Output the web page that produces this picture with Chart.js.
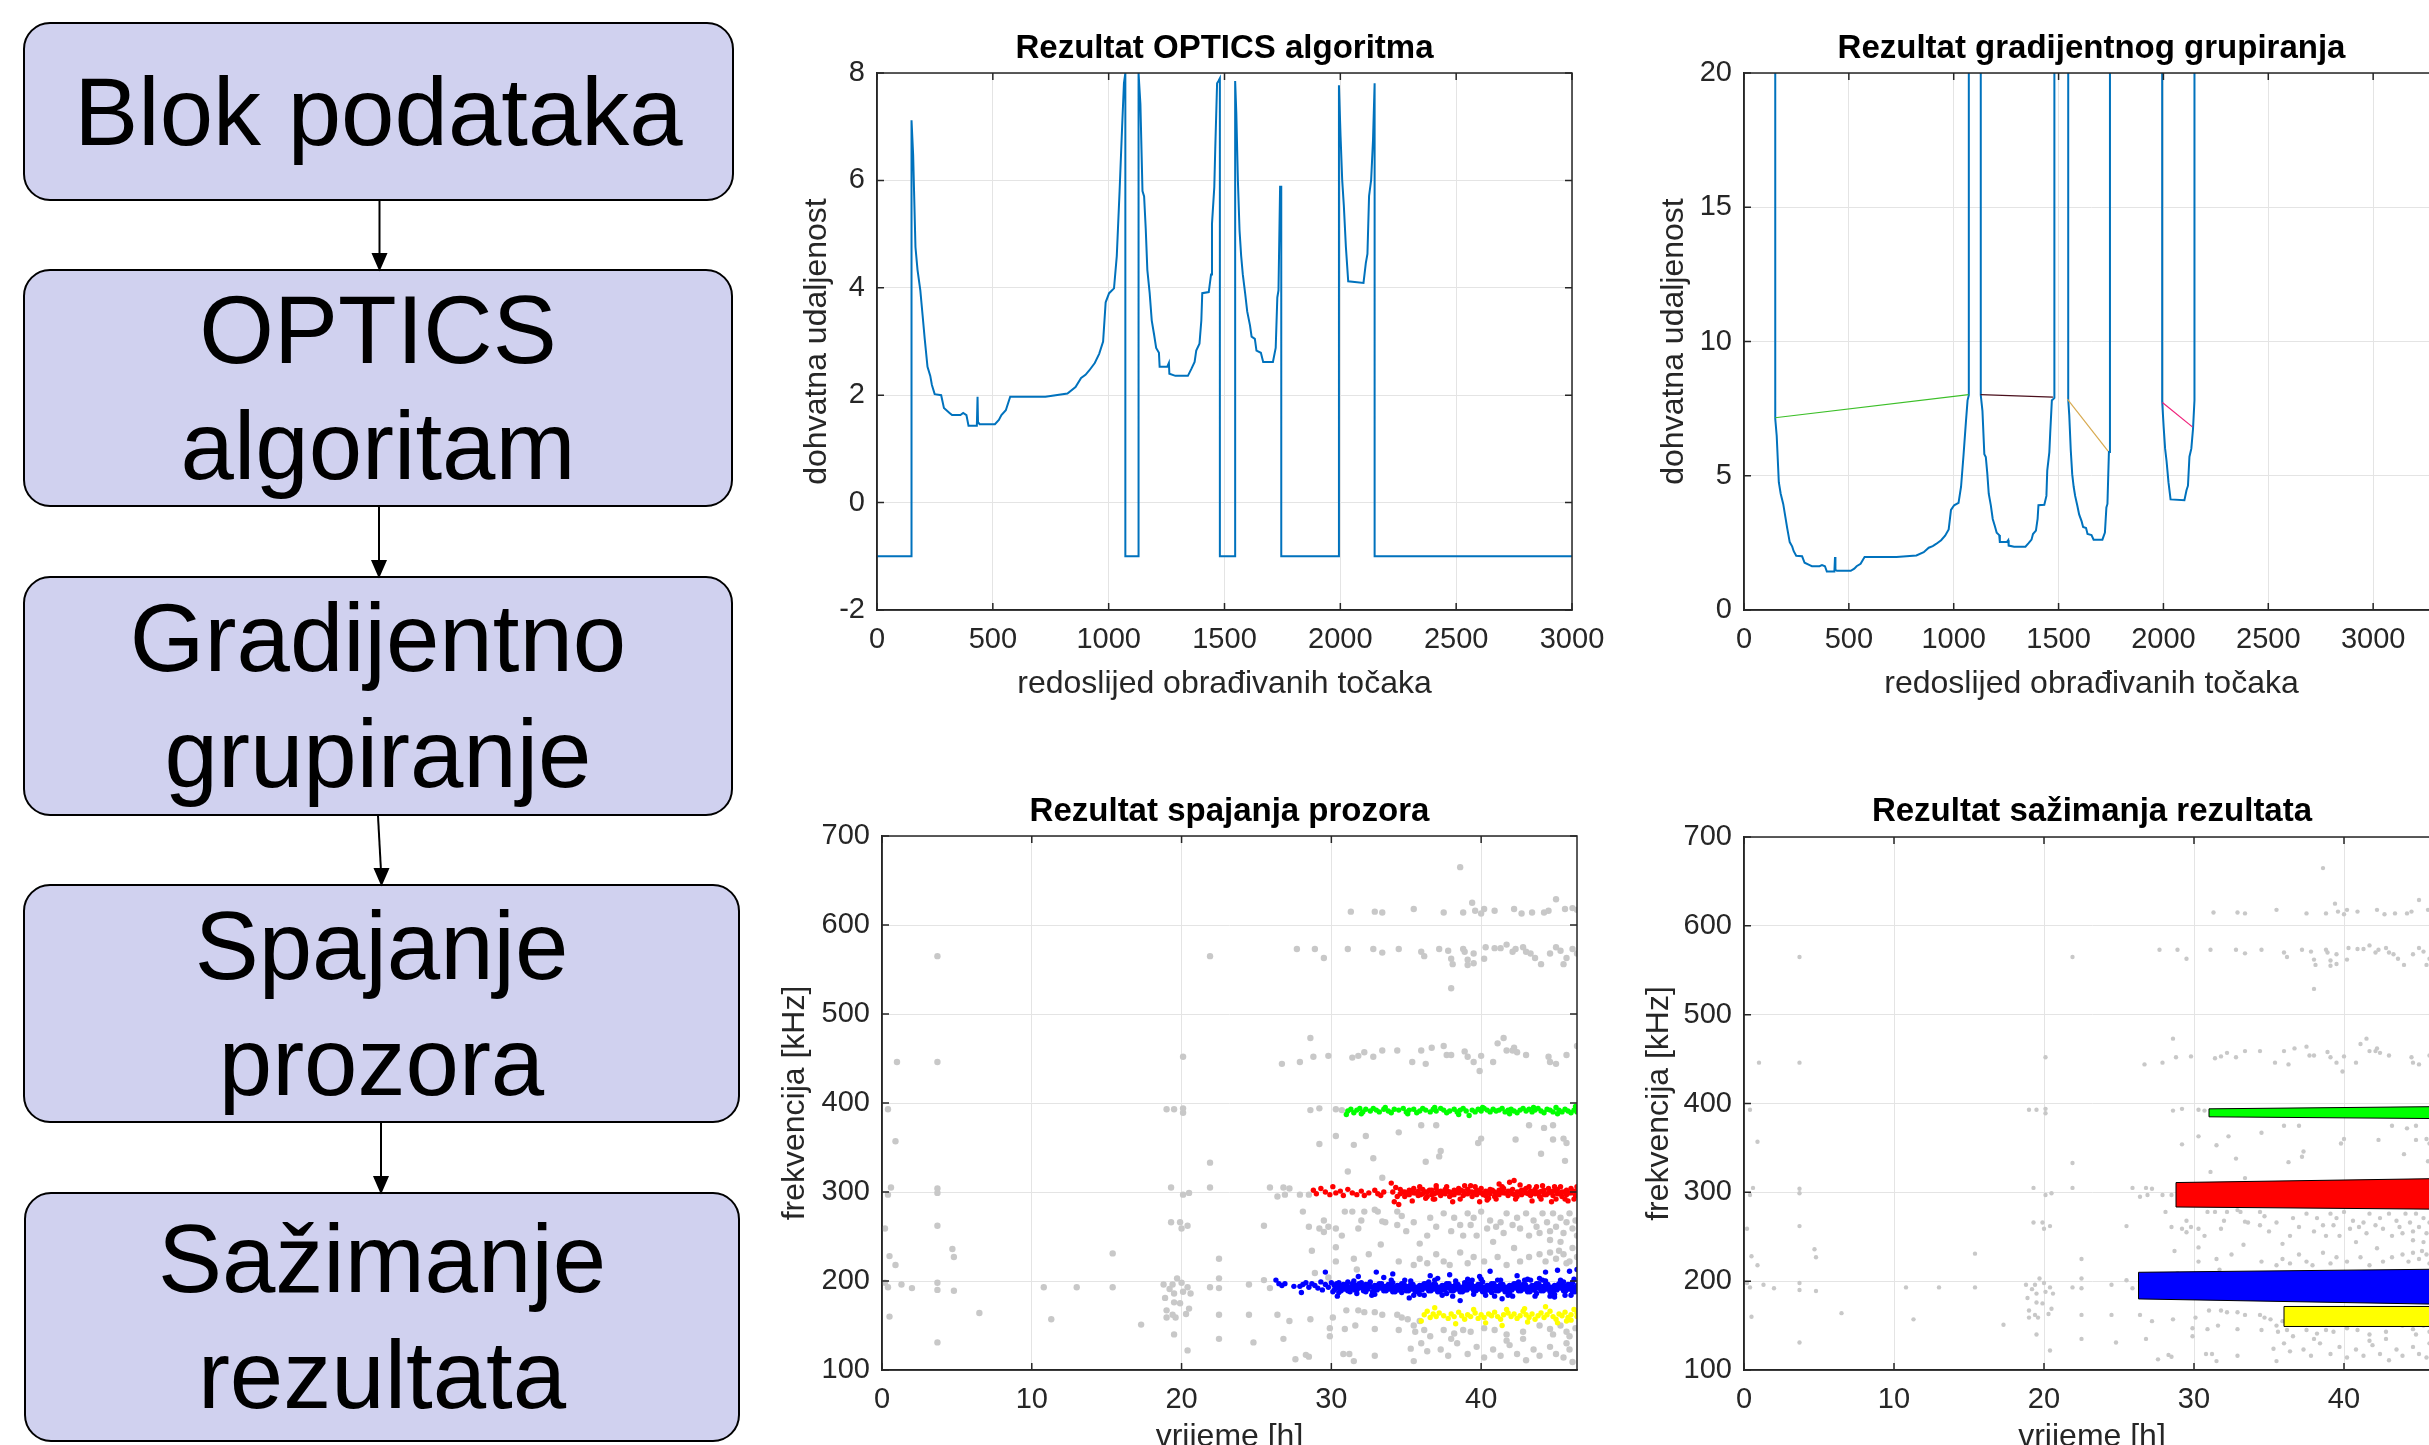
<!DOCTYPE html>
<html>
<head>
<meta charset="utf-8">
<script src="https://cdn.jsdelivr.net/npm/chart.js@4.4.1/dist/chart.umd.min.js"></script>
<style>
  body { margin: 0; width: 2429px; height: 1445px; overflow: hidden; background: #fff; position: relative; font-family: "Liberation Sans", Arial, sans-serif; }
  .box { position: absolute; box-sizing: border-box; background: #d0d1ef; border: 2px solid #000; border-radius: 27px;
         display: flex; align-items: center; justify-content: center; text-align: center; font-size: 96px; line-height: 116px; color: #000; }
  canvas { position: absolute; }
</style>
</head>
<body>

<div class="box" style="left:23px;top:22px;width:711px;height:179px;">Blok podataka</div>
<div class="box" style="left:23px;top:269px;width:710px;height:238px;">OPTICS<br>algoritam</div>
<div class="box" style="left:23px;top:576px;width:710px;height:240px;">Gradijentno<br>grupiranje</div>
<div class="box" style="left:23px;top:884px;width:717px;height:239px;">Spajanje<br>prozora</div>
<div class="box" style="left:24px;top:1192px;width:716px;height:250px;">Sažimanje<br>rezultata</div>

<svg width="760" height="1445" style="position:absolute;left:0;top:0">
  <g stroke="#000" stroke-width="2" fill="#000">
    <line x1="379.5" y1="201" x2="379.5" y2="256"/><polygon points="373,254 386,254 379.5,269"/>
    <line x1="379" y1="507" x2="379" y2="563"/><polygon points="372.5,561 385.5,561 379,576"/>
    <line x1="378" y1="816" x2="381" y2="871"/><polygon points="375,869 388,869 381.5,884"/>
    <line x1="381" y1="1123" x2="381" y2="1179"/><polygon points="374.5,1177 387.5,1177 381,1192"/>
  </g>
</svg>

<canvas id="optics" width="929" height="740" style="left:760px;top:0px"></canvas>
<canvas id="gradient" width="943" height="740" style="left:1620px;top:0px"></canvas>
<canvas id="merge" width="939" height="720" style="left:760px;top:760px"></canvas>
<canvas id="summary" width="944" height="720" style="left:1620px;top:760px"></canvas>

<script>
// OPTICS reachability plot (-1 = undefined reachability)
const optX = [0,149,149,156,166,175,187,197,206,218,230,237,249,277,289,313,324,360,372,386,
  395,431,434,436,443,509,526,537,556,575,727,822,857,881,900,916,940,959,976,987,
  1002,1023,1035,1047,1058,1066,1072,1072,1129,1129,1137,1146,1153,1160,1167,1177,1186,1196,1205,1217,
  1220,1253,1260,1262,1288,1342,1357,1371,1378,1392,1400,1404,1432,1442,1446,1456,1460,1468,1474,1480,
  1480,1546,1546,1551,1558,1565,1572,1579,1589,1598,1610,1617,1631,1638,1657,1667,1709,1721,1728,1733,
  1740,1745,1745,1994,1994,2001,2008,2015,2024,2034,2100,2110,2117,2124,2133,2141,2148,2148,3000];
const optY = [-1,-1,7.12,6.48,4.76,4.33,3.95,3.48,3.05,2.53,2.36,2.19,2.02,2.0,1.76,1.67,1.63,1.63,1.67,1.63,
  1.43,1.43,1.97,1.5,1.46,1.46,1.54,1.63,1.72,1.97,1.97,2.03,2.15,2.32,2.38,2.46,2.6,2.77,3.0,3.73,
  3.9,3.99,4.59,5.79,6.99,7.81,8.0,-1,-1,8.0,7.42,5.8,5.7,5.1,4.33,3.9,3.39,3.13,2.88,2.79,
  2.53,2.53,2.6,2.4,2.36,2.36,2.49,2.62,2.83,2.96,3.39,3.9,3.92,4.25,5.19,5.88,6.57,7.81,7.85,7.9,
  -1,-1,7.85,7.25,5.97,5.06,4.59,4.25,3.9,3.56,3.3,3.09,3.05,2.83,2.79,2.62,2.62,2.88,3.82,3.95,
  5.88,5.88,-1,-1,7.77,6.82,6.01,5.54,4.76,4.12,4.09,4.46,4.63,5.71,6.01,6.74,7.81,-1,-1];

// gradient clustering: cluster connecting lines
const gradLineX = [[148,1071],[1128,1473],[1542,1736],[1995,2138]];
const gradLineY = [[7.16,8.02],[8.02,7.93],[7.85,5.92],[7.73,6.82]];
const gradLineColors = ['#3cbf28','#4a0f1c','#d8ab52','#f0207a'];

// tick labels
const orderTicks = [0,500,1000,1500,2000,2500,3000];
const opticsTicks = [-2,0,2,4,6,8];
const gradTicks = [0,5,10,15,20];
const timeTicks = [0,10,20,30,40];
const freqTicks = [100,200,300,400,500,600,700];

// noise points (time [h], frequency [kHz])
const grayPts = [[38.6,665],[39.4,625],[45.0,629],
  [31.3,615],[32.9,615],[33.4,614],[35.5,618],[37.5,614],[38.8,614],[39.6,616],[40.0,613],[40.2,618],[40.9,616],[42.2,618],[42.7,613],[43.4,614],[44.2,614],[44.5,616],[45.6,618],[46.1,619],[46.4,617],
  [27.7,573],[28.9,573],[29.5,563],[31.1,573],[32.8,573],[33.4,569],[34.5,573],[36.0,570],[36.2,565],[37.2,573],[37.8,571],[38.0,562],[38.1,556],[38.8,573],[38.9,570],[39.1,561],[39.1,555],[39.5,568],[39.5,557],[40.2,562],[40.3,575],[40.9,574],[41.3,574],[41.7,578],[42.1,570],[42.3,573],[42.8,575],[43.0,570],[43.3,568],[43.6,563],[44.0,556],[44.6,568],[45.0,575],[45.3,571],[45.5,556],[45.7,563],[46.1,573],[46.4,568],[38.0,529],
  [3.7,565],[21.9,565],
  [1.0,446],[3.7,446],[20.1,452],[26.7,444],[27.9,446],[28.6,473],[28.8,452],[29.8,453],[31.4,451],[31.8,453],[32.2,457],[32.8,452],[33.4,459],[34.4,459],[35.4,446],[36.0,459],[36.3,444],[36.7,462],[37.5,464],[37.7,454],[38.0,454],[38.9,458],[39.1,452],[39.5,446],[39.9,436],[40.0,453],[40.8,446],[41.1,467],[41.5,473],[41.7,459],[42.1,459],[42.2,462],[42.4,457],[43.0,454],[44.5,452],[44.6,446],[45.0,444],[45.7,454],[46.4,464],
  [0.4,393],[19.0,393],[19.5,393],[20.1,394],[20.1,389],[28.6,392],[29.2,394],[30.3,393],[30.7,392],
  [0.9,357],[30.3,363],[31.5,353],[32.3,363],[29.2,354],[34.5,367],[36.0,375],[37.0,375],[39.8,355],[40.0,360],[42.3,359],[43.2,375],[44.2,372],[44.8,375],[44.8,359],[45.5,360],[45.7,355],[36.3,334],[37.2,340],[37.3,346],[32.8,338],[21.9,333],[44.0,343],[45.6,335],[31.1,323],[33.4,316],
  [0.4,297],[0.6,305],[3.7,304],[3.7,299],[19.3,305],[20.1,297],[20.5,299],[21.9,305],[25.9,305],[26.4,295],[26.8,305],[27.2,304],[26.9,297],[27.9,297],[28.5,297],
  [0.2,259],[0.5,228],[0.9,218],[3.7,262],[4.7,236],[4.8,227],[15.4,231],[19.3,266],[19.9,266],[20.4,262],[20.0,259],[22.5,225],[25.5,262],[28.1,278],[28.5,261],[29.5,268],[29.2,259],[29.5,255],[29.8,261],[30.3,259],[30.7,251],[30.3,238],[30.9,278],[31.4,278],[31.8,259],[32.0,268],[32.2,278],[32.9,280],[33.1,278],[33.4,267],[33.6,266],[34.4,278],[34.4,263],[34.7,273],[35.0,256],[35.5,266],[35.9,242],[36.4,251],[36.6,271],[37.0,261],[37.5,276],[38.0,256],[38.2,271],[38.6,263],[38.8,251],[39.1,276],[39.3,263],[39.5,271],[39.7,251],[40.0,278],[40.4,259],[40.6,268],[41.0,261],[41.3,266],[41.5,254],[41.7,276],[42.1,263],[42.4,271],[42.6,259],[43.0,276],[43.2,251],[43.5,268],[43.7,261],[43.9,254],[44.1,276],[44.4,266],[44.6,256],[44.8,276],[45.0,261],[45.3,271],[45.5,254],[45.7,266],[45.9,276],[46.1,259],[46.3,268],[46.4,251],[44.6,246],[45.3,244],
  [28.7,234],[30.3,222],[31.5,225],[32.5,230],[33.3,241],[34.5,222],[35.5,218],[35.9,225],[36.4,220],[37.0,230],[37.5,222],[37.9,218],[38.6,232],[39.1,220],[39.5,227],[40.2,222],[40.8,244],[41.1,227],[41.7,218],[42.2,237],[42.6,222],[43.2,227],[43.9,230],[44.3,222],[44.6,232],[45.0,225],[45.5,230],[45.9,222],[46.4,227],[46.1,237],[45.7,220],[45.2,234],
  [0.2,198],[0.4,193],[1.3,196],[2.0,192],[3.7,198],[3.7,190],[4.8,189],[10.8,193],[13.0,193],[15.4,193],[18.8,196],[19.2,191],[19.4,196],[19.7,203],[20.0,198],[20.1,188],[20.4,193],[20.6,186],[19.5,186],[21.9,193],[22.5,203],[22.5,192],[24.5,196],[25.5,201],[25.9,192],[28.9,209],[29.8,204],[31.7,213],
  [0.5,160],[6.5,164],[11.3,157],[18.9,181],[19.0,167],[19.0,159],[19.5,176],[19.9,175],[19.4,162],[20.3,163],[19.6,159],[20.5,169],[17.3,151],[22.5,162],[24.5,162],[26.4,162],[27.2,155],[28.6,157],[30.1,159],[31.0,167],[31.8,167],[32.2,165],[32.9,165],[33.4,162],[34.4,162],[34.7,159],[35.1,157],[35.9,155],[29.9,147],[30.9,146],[31.6,150],[32.9,146],[34.5,145],[35.5,150],[35.6,143],[36.2,145],[36.6,138],[37.5,145],[38.2,141],[38.8,145],[39.3,143],[40.2,147],[40.9,145],[41.7,140],[42.8,143],[43.9,150],[44.6,146],[45.3,150],[45.7,143],[46.3,147],[45.9,138],[44.8,140],
  [3.7,131],[19.5,140],[20.4,122],[22.5,135],[24.8,131],[26.8,135],[27.6,112],[28.3,117],[28.5,115],[29.9,138],[30.8,118],[31.2,118],[31.5,110],[32.9,116],[35.3,124],[35.5,110],[36.0,130],[36.4,121],[37.3,123],[37.8,116],[38.4,130],[39.1,118],[39.7,126],[40.2,114],[40.8,123],[41.3,116],[41.9,128],[42.4,118],[43.0,111],[43.5,123],[43.9,116],[44.6,126],[45.0,118],[45.5,114],[45.9,123],[46.1,109],[45.7,130],[42.8,135],[41.7,133],[38.0,135]];

// merged windows: cluster points
const greenPts = [[31.0,387],[31.1,391],[31.3,393],[31.5,389],[31.7,392],[31.9,394],[32.1,390],[32.3,393],[32.6,391],[32.8,394],[33.0,392],[33.2,390],[33.5,393],[33.8,391],[34.0,389],[34.2,393],[34.5,392],[34.8,394],[35.0,390],[35.2,392],[35.5,393],[35.7,389],[35.9,391],[36.1,394],[36.3,392],[36.6,390],[36.8,393],[37.0,391],[37.3,394],[37.5,392],[37.7,389],[37.9,391],[38.2,393],[38.4,390],[38.6,392],[38.8,394],[39.0,391],[39.2,386],[39.4,392],[39.6,390],[39.8,393],[40.0,391],[40.2,394],[40.4,392],[40.6,390],[40.8,393],[41.0,391],[41.2,392],[41.4,394],[41.6,390],[41.8,392],[42.0,393],[42.2,391],[42.4,389],[42.6,392],[42.8,394],[43.0,391],[43.2,393],[43.4,390],[43.6,392],[43.8,394],[44.0,391],[44.2,389],[44.4,393],[44.6,392],[44.8,390],[45.0,395],[45.2,392],[45.4,390],[45.6,393],[45.8,391],[46.0,389],[46.2,392],[46.4,390],[46.4,393],
  [32.0,388],[33.6,395],[35.1,388],[36.9,395],[38.5,387],[40.1,395],[41.9,388],[43.5,395],[45.1,388],[46.3,396]];
const redPts = [[28.8,302],[29.0,298],[29.3,304],[29.6,300],[29.9,297],[30.1,306],[30.3,299],[30.6,301],[30.8,296],[31.1,303],[31.4,299],[31.7,297],[32.0,301],[32.2,296],[32.5,299],[32.9,302],[33.1,298],[33.3,296],[33.5,300],[34.0,310],[34.3,305],[34.1,300],[34.4,295],[34.2,289],[34.5,286],
  [34.6,298],[34.6,303],[34.9,300],[34.9,295],[35.2,302],[35.2,297],[35.5,299],[35.5,304],[35.8,296],[35.8,301],[36.1,303],[36.1,298],[36.4,300],[36.4,295],[36.7,302],[36.7,297],[37.0,299],[37.0,304],[37.3,296],[37.3,301],[37.6,303],[37.6,298],[37.9,300],[37.9,295],[38.2,302],[38.2,297],[38.5,299],[38.5,304],[38.8,296],[38.8,301],[39.1,303],[39.1,298],[39.4,300],[39.4,295],[39.7,302],[39.7,297],[40.0,299],[40.0,304],[40.3,296],[40.3,301],[40.6,303],[40.6,298],[40.9,300],[40.9,295],[41.2,302],[41.2,297],[41.5,299],[41.5,304],[41.8,296],[41.8,301],[42.1,303],[42.1,298],[42.4,300],[42.4,295],[42.7,302],[42.7,297],[43.0,299],[43.0,304],[43.3,296],[43.3,301],[43.6,303],[43.6,298],[43.9,300],[43.9,295],[44.2,302],[44.2,297],[44.5,299],[44.5,304],[44.8,296],[44.8,301],[45.1,303],[45.1,298],[45.4,300],[45.4,295],[45.7,302],[45.7,297],[46.0,299],[46.0,304],[46.3,296],[46.3,301],
  [34.75,300],[35.05,298],[35.35,301],[35.65,299],[35.95,297],[36.25,300],[36.55,302],[36.85,298],[37.15,300],[37.45,299],[37.75,301],[38.05,297],[38.35,300],[38.65,302],[38.95,298],[39.25,300],[39.55,299],[39.85,301],[40.15,297],[40.45,300],[40.75,302],[41.05,298],[41.35,300],[41.65,299],[41.95,301],[42.25,297],[42.55,300],[42.85,302],[43.15,298],[43.45,300],[43.75,299],[44.05,301],[44.35,297],[44.65,300],[44.95,302],[45.25,298],[45.55,300],[45.85,299],[46.15,301],
  [35.4,290],[36.9,292],[38.1,289],[39.3,307],[40.4,291],[41.2,309],[41.9,311],[42.2,313],[42.6,308],[43.4,290],[44.1,307],[44.7,289],[45.3,306],[45.8,290],[46.2,292],[37.0,307],[39.9,289],
  [35.9,306],[36.8,292],[37.7,306],[38.6,292],[39.6,306],[40.5,293],[41.4,306],[42.3,292],[43.2,306],[44.0,292],[44.9,306],[45.6,292],[46.4,306],[36.3,293],[38.9,307],[41.0,292],[43.7,306],[45.0,292]];
const bluePts = [[26.3,201],[26.5,197],[26.7,195],[26.9,197],[27.5,194],[27.9,194],[28.1,196],[28.3,198],[28.5,193],[28.7,197],[28.9,195],[29.1,192],[29.3,199],[29.4,190],[29.6,196],[29.8,193],[30.0,198],[30.1,188],
  [30.2,195],[30.2,190],[30.5,193],[30.5,198],[30.5,187],[30.8,191],[30.8,196],[31.1,194],[31.1,189],[31.1,199],[31.4,192],[31.4,197],[31.7,190],[31.7,195],[31.7,186],[32.0,193],[32.0,198],[32.3,191],[32.3,196],[32.3,188],[32.6,194],[32.6,199],[32.9,190],[32.9,195],[32.9,185],[33.2,192],[33.2,197],[33.5,194],[33.5,189],[33.5,204],[33.8,191],[33.8,196],[34.1,193],[34.1,188],[34.1,198],[34.4,195],[34.4,190],[34.7,192],[34.7,197],[34.7,187],[35.0,194],[35.0,189],[35.3,191],[35.3,196],[35.3,200],[35.6,193],[35.6,188],[35.9,195],[35.9,190],[35.9,185],[36.2,192],[36.2,197],[36.5,194],[36.5,189],[36.5,199],[36.8,191],[36.8,196],[37.1,193],[37.1,188],[37.1,203],[37.4,195],[37.4,190],[37.7,192],[37.7,197],[37.7,186],[38.0,194],[38.0,189],[38.3,191],[38.3,196],[38.3,200],[38.6,193],[38.6,188],[38.9,195],[38.9,190],[38.9,198],[39.2,192],[39.2,197],[39.5,194],[39.5,189],[39.5,185],[39.8,191],[39.8,196],[40.1,193],[40.1,188],[40.1,199],[40.4,195],[40.4,190],[40.7,192],[40.7,197],[40.7,187],[41.0,194],[41.0,189],[41.3,191],[41.3,196],[41.3,201],[41.6,193],[41.6,188],[41.9,195],[41.9,190],[41.9,186],[42.2,192],[42.2,197],[42.5,194],[42.5,189],[42.5,199],[42.8,191],[42.8,196],[43.1,193],[43.1,188],[43.1,202],[43.4,195],[43.4,190],[43.7,192],[43.7,197],[43.7,186],[44.0,194],[44.0,189],[44.3,191],[44.3,196],[44.3,200],[44.6,193],[44.6,188],[44.9,195],[44.9,190],[44.9,185],[45.2,192],[45.2,197],[45.5,194],[45.5,189],[45.5,199],[45.8,191],[45.8,196],[46.1,193],[46.1,188],[46.1,198],[46.4,195],[46.4,190],[46.4,193],
  [30.35,192],[30.35,197],[30.65,189],[30.65,194],[30.95,196],[30.95,191],[31.25,193],[31.25,188],[31.55,195],[31.55,190],[31.85,192],[31.85,197],[32.15,189],[32.15,194],[32.45,196],[32.45,191],[32.75,193],[32.75,188],[33.05,195],[33.05,190],[33.35,192],[33.35,197],[33.65,189],[33.65,194],[33.95,196],[33.95,191],[34.25,193],[34.25,188],[34.55,195],[34.55,190],[34.85,192],[34.85,197],[35.15,189],[35.15,194],[35.45,196],[35.45,191],[35.75,193],[35.75,188],[36.05,195],[36.05,190],[36.35,192],[36.35,197],[36.65,189],[36.65,194],[36.95,196],[36.95,191],[37.25,193],[37.25,188],[37.55,195],[37.55,190],[37.85,192],[37.85,197],[38.15,189],[38.15,194],[38.45,196],[38.45,191],[38.75,193],[38.75,188],[39.05,195],[39.05,190],[39.35,192],[39.35,197],[39.65,189],[39.65,194],[39.95,196],[39.95,191],[40.25,193],[40.25,188],[40.55,195],[40.55,190],[40.85,192],[40.85,197],[41.15,189],[41.15,194],[41.45,196],[41.45,191],[41.75,193],[41.75,188],[42.05,195],[42.05,190],[42.35,192],[42.35,197],[42.65,189],[42.65,194],[42.95,196],[42.95,191],[43.25,193],[43.25,188],[43.55,195],[43.55,190],[43.85,192],[43.85,197],[44.15,189],[44.15,194],[44.45,196],[44.45,191],[44.75,193],[44.75,188],[45.05,195],[45.05,190],[45.35,192],[45.35,197],[45.65,189],[45.65,194],[45.95,196],[45.95,191],[46.25,193],[46.25,188],
  [33.0,210],[34.1,208],[35.2,181],[36.6,206],[37.9,207],[38.6,178],[39.9,205],[40.6,211],[41.4,180],[42.4,206],[43.6,183],[44.3,210],[45.1,212],[45.9,211],[46.4,213],[44.9,182],[40.9,183],[31.8,205],[29.6,210],[28.0,187],[30.4,183],
  [34.9,201],[37.4,184],[39.1,202],[41.8,184],[43.9,203],[45.6,184],[46.2,202],[42.9,201],[36.2,184],
  [31.5,200],[32.7,184],[34.0,201],[35.5,184],[36.9,201],[38.1,183],[39.4,201],[40.3,184],[41.1,201],[42.1,183],[43.3,201],[44.6,183],[45.3,201],[46.0,184],[44.1,201],[40.0,202]];
const yellowPts = [[36.0,155],[36.2,162],[36.4,166],[36.6,159],[36.8,163],[37.0,160],[37.2,164],[37.5,161],[37.8,158],[38.0,163],[38.2,160],[38.5,165],[38.7,161],[38.9,157],[39.1,162],[39.3,160],[39.6,164],[39.8,158],[40.0,162],[40.2,159],[40.5,163],[40.7,161],[40.9,165],[41.1,160],[41.3,157],[41.5,162],[41.8,164],[42.0,160],[42.2,163],[42.4,158],[42.6,161],[42.8,166],[43.0,162],[43.2,159],[43.4,163],[43.6,157],[43.8,161],[44.0,164],[44.2,159],[44.4,162],[44.6,166],[44.8,160],[45.0,157],[45.2,163],[45.4,161],[45.6,165],[45.8,159],[46.0,162],[46.2,168],[46.4,160],[46.4,164],
  [36.9,170],[38.3,152],[39.5,168],[41.4,150],[41.7,168],[42.9,169],[44.3,171],[45.1,153],[45.7,155],[46.0,156],[43.1,154],[40.3,153]];

// summarised result polygons
const polyX = [[31.0,31.0,46.4,46.4,31.0],[28.8,28.8,46.4,46.4,28.8],[26.3,26.3,46.4,46.4,26.3],[36.0,36.0,46.4,46.4,36.0]];
const polyY = [[385,394,396.5,383,385],[283.5,311,315.5,281,283.5],[180,210,213.5,174,180],[149,171.5,171.5,149,149]];
const polyColors = ['#00ff00','#ff0000','#0000ff','#ffff00'];

const fam = "'Liberation Sans', Arial, Helvetica, sans-serif";
const tickFont = {family: fam, size: 29};
const labelFont = {family: fam, size: 32};
const titleFont = {family: fam, size: 33, weight: 'bold'};
const ink = '#262626';
const gridColor = '#e4e4e4';

const toXY = (xs, ys) => xs.map((x, i) => ({x: x, y: ys[i]}));
const pairs = pts => pts.map(p => ({x: p[0], y: p[1]}));

// box + inward tick marks like matlab axes
const frame = {
  id: 'frame',
  afterDatasetsDraw(chart) {
    const {ctx, chartArea: a, scales: {x, y}} = chart;
    ctx.save();
    ctx.strokeStyle = ink;
    ctx.lineWidth = 1.5;
    ctx.strokeRect(a.left, a.top, a.right - a.left, a.bottom - a.top);
    ctx.beginPath();
    x.ticks.forEach(t => {
      const px = x.getPixelForValue(t.value);
      ctx.moveTo(px, a.bottom); ctx.lineTo(px, a.bottom - 7);
      ctx.moveTo(px, a.top); ctx.lineTo(px, a.top + 7);
    });
    y.ticks.forEach(t => {
      const py = y.getPixelForValue(t.value);
      ctx.moveTo(a.left, py); ctx.lineTo(a.left + 7, py);
      ctx.moveTo(a.right, py); ctx.lineTo(a.right - 7, py);
    });
    ctx.stroke();
    ctx.restore();
  }
};

// an empty right axis as wide as the left one keeps the title centred over the plot
function buildOptions(g) {
  return {
    responsive: false,
    animation: false,
    events: [],
    layout: {padding: 0},
    plugins: {
      legend: {display: false},
      tooltip: {enabled: false},
      title: {display: true, text: g.title, color: '#000', font: titleFont,
              padding: {top: g.titleTop, bottom: g.titleBottom}}
    },
    scales: {
      x: {
        type: 'linear', min: g.xMin, max: g.xMax,
        afterBuildTicks: s => { s.ticks = g.xTicks.map(v => ({value: v})); },
        afterFit: s => { s.height = g.xAxisH; },
        ticks: {color: ink, font: tickFont, padding: 13, maxRotation: 0, autoSkip: false, callback: v => String(v)},
        grid: {color: gridColor, drawTicks: false},
        border: {color: ink, width: 1.5},
        title: {display: true, text: g.xLabel, color: ink, font: labelFont, padding: {top: 0, bottom: g.xTitlePad}}
      },
      y: {
        type: 'linear', min: g.yMin, max: g.yMax,
        afterBuildTicks: s => { s.ticks = g.yTicks.map(v => ({value: v})); },
        afterFit: s => { s.width = g.yAxisW; },
        ticks: {color: ink, font: tickFont, padding: 12, autoSkip: false, callback: v => String(v)},
        grid: {color: gridColor, drawTicks: false},
        border: {color: ink, width: 1.5},
        title: {display: true, text: g.yLabel, color: ink, font: labelFont, padding: {top: g.yTitlePad, bottom: 0}}
      },
      yR: {
        type: 'linear', position: 'right', display: true,
        afterFit: s => { s.width = g.yAxisW; },
        ticks: {display: false},
        grid: {display: false, drawOnChartArea: false},
        border: {display: false}
      }
    }
  };
}

// top left: OPTICS
new Chart(document.getElementById('optics'), {
  type: 'line',
  data: {datasets: [{data: toXY(optX, optY), borderColor: '#0072bd', borderWidth: 2, pointRadius: 0, tension: 0}]},
  options: buildOptions({title: 'Rezultat OPTICS algoritma', titleTop: 29.2, titleBottom: 4.2,
    xMin: 0, xMax: 3000, xTicks: orderTicks, xAxisH: 130, xLabel: 'redoslijed obrađivanih točaka', xTitlePad: 36.8,
    yMin: -2, yMax: 8, yTicks: opticsTicks, yAxisW: 117, yLabel: 'dohvatna udaljenost', yTitlePad: 38.4}),
  plugins: [frame]
});

// top right: gradient clustering (undefined reachability drawn as infinite)
const gradSets = gradLineX.map((xs, i) => ({
  data: toXY(xs, gradLineY[i]), borderColor: gradLineColors[i], borderWidth: 1.2, pointRadius: 0, order: 0
}));
gradSets.push({data: toXY(optX, optY.map(v => v < 0 ? 1000 : v)), borderColor: '#0072bd', borderWidth: 2,
  pointRadius: 0, tension: 0, order: 1});
new Chart(document.getElementById('gradient'), {
  type: 'line',
  data: {datasets: gradSets},
  options: buildOptions({title: 'Rezultat gradijentnog grupiranja', titleTop: 29.2, titleBottom: 4.2,
    xMin: 0, xMax: 3314, xTicks: orderTicks, xAxisH: 130, xLabel: 'redoslijed obrađivanih točaka', xTitlePad: 36.8,
    yMin: 0, yMax: 20, yTicks: gradTicks, yAxisW: 124, yLabel: 'dohvatna udaljenost', yTitlePad: 34.8}),
  plugins: [frame]
});

// bottom left: merged windows
const dots = (pts, color, r, order) => ({data: pairs(pts), showLine: false, pointRadius: r, pointBorderWidth: 0,
  pointBackgroundColor: color, backgroundColor: color, borderColor: color, order: order});
new Chart(document.getElementById('merge'), {
  type: 'line',
  data: {datasets: [
    dots(greenPts, '#00ff00', 2.7, 0), dots(redPts, '#ff0000', 2.7, 0),
    dots(bluePts, '#0000ff', 2.7, 0), dots(yellowPts, '#ffff00', 2.7, 0),
    dots(grayPts, '#c8c8c8', 3.2, 5)
  ]},
  options: buildOptions({title: 'Rezultat spajanja prozora', titleTop: 32.1, titleBottom: 4.3,
    xMin: 0, xMax: 46.4, xTicks: timeTicks, xAxisH: 110, xLabel: 'vrijeme [h]', xTitlePad: 23.8,
    yMin: 100, yMax: 700, yTicks: freqTicks, yAxisW: 122, yLabel: 'frekvencija [kHz]', yTitlePad: 16.4}),
  plugins: [frame]
});

// bottom right: summarised result
const polySets = polyX.map((xs, i) => ({
  data: toXY(xs, polyY[i]), showLine: true, fill: 'shape', backgroundColor: polyColors[i],
  borderColor: '#000', borderWidth: 1, pointRadius: 0, tension: 0, order: 0
}));
polySets.push(dots(grayPts, '#c8c8c8', 2.2, 5));
new Chart(document.getElementById('summary'), {
  type: 'line',
  data: {datasets: polySets},
  options: buildOptions({title: 'Rezultat sažimanja rezultata', titleTop: 32.1, titleBottom: 5.3,
    xMin: 0, xMax: 46.4, xTicks: timeTicks, xAxisH: 110, xLabel: 'vrijeme [h]', xTitlePad: 23.8,
    yMin: 100, yMax: 700, yTicks: freqTicks, yAxisW: 124, yLabel: 'frekvencija [kHz]', yTitlePad: 19.5}),
  plugins: [frame]
});
</script>
</body>
</html>
